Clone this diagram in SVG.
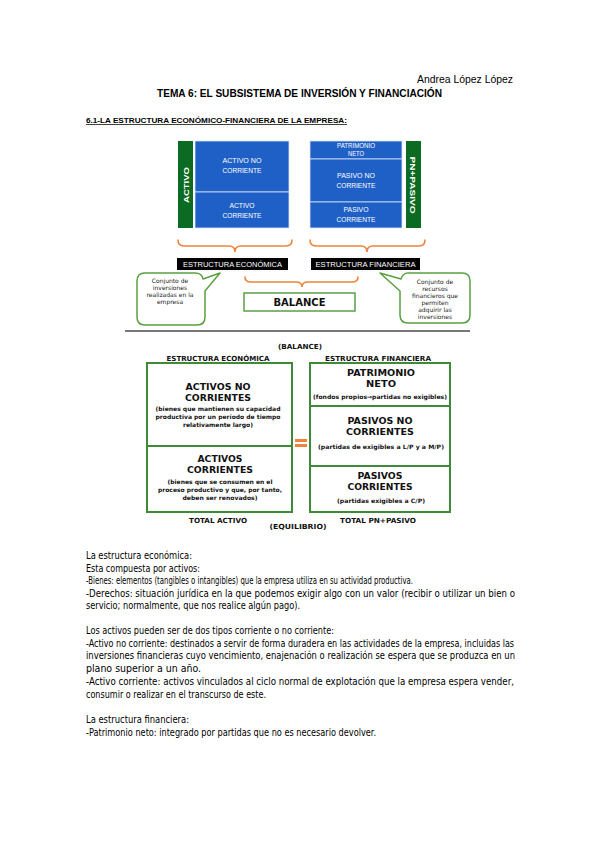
<svg xmlns="http://www.w3.org/2000/svg" width="599" height="848" viewBox="0 0 599 848">
<defs>
<style>
.doc{font-family:"Liberation Sans Narrow","DejaVu Sans Condensed","Liberation Sans",Arial,sans-serif;font-size:10px;fill:#000}
.hdr{font-family:"Liberation Sans",Arial,sans-serif;fill:#000}
.bl{font-family:"Liberation Sans",Arial,sans-serif;font-size:7px;fill:#fff;text-anchor:middle}
.vb{font-family:"DejaVu Sans",Verdana,sans-serif;font-weight:bold;fill:#111;text-anchor:middle}
.big{font-size:9.4px}
.sm{font-size:6px}
.hd{font-size:7px}
.co{font-family:"DejaVu Sans",Verdana,sans-serif;font-size:6px;fill:#222;text-anchor:middle}
.blue{fill:#1f60c6;stroke:#d9e4f5;stroke-width:0.8}
.gbar{fill:#0c6b22}
.brace{fill:none;stroke:#f0843a;stroke-width:1.6;stroke-linecap:round}
.gbox{fill:#fff;stroke:#3e8a36;stroke-width:2}
.call{fill:#fff;stroke:#58a040;stroke-width:1.5;stroke-linejoin:round}
</style>
</defs>
<rect width="599" height="848" fill="#fff"/>

<g id="header">
<text class="hdr" x="513" y="83" text-anchor="end" font-size="10.5" textLength="96" lengthAdjust="spacingAndGlyphs">Andrea López López</text>
<text class="hdr" x="157" y="97" font-size="11" font-weight="bold" textLength="285" lengthAdjust="spacingAndGlyphs">TEMA 6: EL SUBSISTEMA DE INVERSIÓN Y FINANCIACIÓN</text>
<text class="hdr" x="86" y="123" font-size="7.5" font-weight="bold" textLength="261" lengthAdjust="spacingAndGlyphs" text-decoration="underline">6.1-LA ESTRUCTURA ECONÓMICO-FINANCIERA DE LA EMPRESA:</text>
</g>

<g id="activo-bar">
<rect class="gbar" x="178" y="141" width="15" height="87"/>
<text class="bl" transform="translate(189,185) rotate(-90)" font-size="9.5" font-weight="bold" textLength="36" lengthAdjust="spacingAndGlyphs">ACTIVO</text>
</g>
<g id="activo-no-corriente">
<rect class="blue" x="195" y="141" width="94" height="51"/>
<text class="bl" x="242" y="163" textLength="39" lengthAdjust="spacingAndGlyphs">ACTIVO NO</text>
<text class="bl" x="242" y="173" textLength="39" lengthAdjust="spacingAndGlyphs">CORRIENTE</text>
</g>
<g id="activo-corriente">
<rect class="blue" x="195" y="192" width="94" height="36"/>
<text class="bl" x="242" y="208" textLength="25" lengthAdjust="spacingAndGlyphs">ACTIVO</text>
<text class="bl" x="242" y="218" textLength="39" lengthAdjust="spacingAndGlyphs">CORRIENTE</text>
</g>
<g id="patrimonio-neto">
<rect class="blue" x="310" y="141" width="92" height="18"/>
<text class="bl" x="356" y="148" font-size="5.8" textLength="38" lengthAdjust="spacingAndGlyphs">PATRIMONIO</text>
<text class="bl" x="356" y="156" font-size="5.8" textLength="16" lengthAdjust="spacingAndGlyphs">NETO</text>
</g>
<g id="pasivo-no-corriente">
<rect class="blue" x="310" y="159" width="92" height="43"/>
<text class="bl" x="356" y="178" textLength="38" lengthAdjust="spacingAndGlyphs">PASIVO NO</text>
<text class="bl" x="356" y="188" textLength="39" lengthAdjust="spacingAndGlyphs">CORRIENTE</text>
</g>
<g id="pasivo-corriente">
<rect class="blue" x="310" y="202" width="92" height="26"/>
<text class="bl" x="356" y="212" textLength="25" lengthAdjust="spacingAndGlyphs">PASIVO</text>
<text class="bl" x="356" y="222" textLength="39" lengthAdjust="spacingAndGlyphs">CORRIENTE</text>
</g>
<g id="pn-pasivo-bar">
<rect class="gbar" x="406" y="141" width="15" height="87"/>
<text class="bl" transform="translate(410,185) rotate(90)" font-size="9.5" font-weight="bold" textLength="57" lengthAdjust="spacingAndGlyphs">PN+PASIVO</text>
</g>

<g id="connectors">
<path class="brace" d="M178,240 Q178,246 184,246 L229,246 Q235,246 235,252 Q235,246 241,246 L286,246 Q292,246 292,240"/>
<path class="brace" d="M310,240 Q310,246 316,246 L361,246 Q367,246 367,252 Q367,246 373,246 L419,246 Q425,246 425,240"/>
<path class="brace" d="M245,277 Q245,282 251,282 L296,282 Q302,282 302,287 Q302,282 308,282 L352,282 Q358,282 358,277"/>
</g>

<g id="estructura-economica-label">
<rect x="177" y="258" width="111" height="12" fill="#000"/>
<text class="bl" x="232.5" y="267" textLength="99" lengthAdjust="spacingAndGlyphs">ESTRUCTURA ECONÓMICA</text>
</g>
<g id="estructura-financiera-label">
<rect x="311" y="258" width="109" height="12" fill="#000"/>
<text class="bl" x="365.5" y="267" textLength="100" lengthAdjust="spacingAndGlyphs">ESTRUCTURA FINANCIERA</text>
</g>

<g id="callout-left">
<path class="call" d="M145,273 H195 Q202,273 203,279 L220,273 L205,291 V317 Q205,325 197,325 H145 Q137,325 137,317 V281 Q137,273 145,273 Z"/>
<text class="co" x="170" y="283">Conjunto de</text>
<text class="co" x="170" y="290">inversiones</text>
<text class="co" x="170" y="297">realizadas en la</text>
<text class="co" x="170" y="304">empresa</text>
</g>
<g id="callout-right">
<path class="call" d="M408,273 H462 Q470,273 470,281 V315 Q470,323 462,323 H408 Q400,323 400,315 V291 L380,273 L401,279 Q403,273 408,273 Z"/>
<text class="co" x="435" y="284">Conjunto de</text>
<text class="co" x="435" y="291">recursos</text>
<text class="co" x="435" y="298">financieros que</text>
<text class="co" x="435" y="305">permiten</text>
<text class="co" x="435" y="312">adquirir las</text>
<text class="co" x="435" y="319">inversiones</text>
</g>
<g id="balance-box">
<rect x="244" y="293" width="111" height="18" fill="#fff" stroke="#5aa046" stroke-width="1.5"/>
<text class="vb" x="299.5" y="306" font-size="10" textLength="52" lengthAdjust="spacingAndGlyphs">BALANCE</text>
</g>
<line x1="125" y1="331" x2="470" y2="331" stroke="#777" stroke-width="2"/>

<g id="balance-table-labels">
<text class="vb hd" x="300" y="349" textLength="44" lengthAdjust="spacingAndGlyphs">(BALANCE)</text>
<text class="vb hd" x="218" y="361" textLength="103" lengthAdjust="spacingAndGlyphs">ESTRUCTURA ECONÓMICA</text>
<text class="vb hd" x="378" y="361" textLength="106" lengthAdjust="spacingAndGlyphs">ESTRUCTURA FINANCIERA</text>
<text class="vb hd" x="218" y="523" textLength="58" lengthAdjust="spacingAndGlyphs">TOTAL ACTIVO</text>
<text class="vb hd" x="298" y="529" textLength="57" lengthAdjust="spacingAndGlyphs">(EQUILIBRIO)</text>
<text class="vb hd" x="378" y="523" textLength="76" lengthAdjust="spacingAndGlyphs">TOTAL PN+PASIVO</text>
</g>
<g id="activos-no-corrientes">
<rect class="gbox" x="147" y="363" width="145" height="83"/>
<text class="vb big" x="218" y="390" textLength="65" lengthAdjust="spacingAndGlyphs">ACTIVOS NO</text>
<text class="vb big" x="218" y="401" textLength="66" lengthAdjust="spacingAndGlyphs">CORRIENTES</text>
<text class="vb sm" x="218" y="411" textLength="125" lengthAdjust="spacingAndGlyphs">(bienes que mantienen su capacidad</text>
<text class="vb sm" x="218" y="419" textLength="125" lengthAdjust="spacingAndGlyphs">productiva por un período de tiempo</text>
<text class="vb sm" x="218" y="427" textLength="70" lengthAdjust="spacingAndGlyphs">relativamente largo)</text>
</g>
<g id="activos-corrientes">
<rect class="gbox" x="147" y="446" width="145" height="66"/>
<text class="vb big" x="220" y="462" textLength="45" lengthAdjust="spacingAndGlyphs">ACTIVOS</text>
<text class="vb big" x="220" y="473" textLength="66" lengthAdjust="spacingAndGlyphs">CORRIENTES</text>
<text class="vb sm" x="220" y="484" textLength="105" lengthAdjust="spacingAndGlyphs">(bienes que se consumen en el</text>
<text class="vb sm" x="220" y="492" textLength="124" lengthAdjust="spacingAndGlyphs">proceso productivo y que, por tanto,</text>
<text class="vb sm" x="220" y="500" textLength="75" lengthAdjust="spacingAndGlyphs">deben ser renovados)</text>
</g>
<g id="equals">
<rect x="295" y="439" width="12" height="3" fill="#f0843a"/>
<rect x="295" y="444" width="12" height="3" fill="#f0843a"/>
</g>
<g id="patrimonio-neto-box">
<rect class="gbox" x="310" y="363" width="140" height="43"/>
<text class="vb big" x="381" y="376" textLength="68" lengthAdjust="spacingAndGlyphs">PATRIMONIO</text>
<text class="vb big" x="381" y="387" textLength="30" lengthAdjust="spacingAndGlyphs">NETO</text>
<text class="vb sm" x="380" y="399" textLength="134" lengthAdjust="spacingAndGlyphs">(fondos propios→partidas no exigibles)</text>
</g>
<g id="pasivos-no-corrientes">
<rect class="gbox" x="310" y="406" width="140" height="60"/>
<text class="vb big" x="380" y="424" textLength="65" lengthAdjust="spacingAndGlyphs">PASIVOS NO</text>
<text class="vb big" x="380" y="435" textLength="68" lengthAdjust="spacingAndGlyphs">CORRIENTES</text>
<text class="vb sm" x="381" y="449" textLength="126" lengthAdjust="spacingAndGlyphs">(partidas de exigibles a L/P y a M/P)</text>
</g>
<g id="pasivos-corrientes">
<rect class="gbox" x="310" y="466" width="140" height="46"/>
<text class="vb big" x="380" y="479" textLength="45" lengthAdjust="spacingAndGlyphs">PASIVOS</text>
<text class="vb big" x="380" y="490" textLength="65" lengthAdjust="spacingAndGlyphs">CORRIENTES</text>
<text class="vb sm" x="381" y="503" textLength="88" lengthAdjust="spacingAndGlyphs">(partidas exigibles a C/P)</text>
</g>

<g id="body-text">
<text class="doc" x="86" y="559" textLength="106" lengthAdjust="spacingAndGlyphs">La estructura económica:</text>
<text class="doc" x="86" y="572" textLength="114" lengthAdjust="spacingAndGlyphs">Esta compuesta por activos:</text>
<text class="doc" x="86" y="584" textLength="327" lengthAdjust="spacingAndGlyphs">-Bienes: elementos (tangibles o intangibles) que la empresa utiliza en su actividad productiva.</text>
<text class="doc" x="86" y="597" textLength="429" lengthAdjust="spacingAndGlyphs">-Derechos: situación jurídica en la que podemos exigir algo con un valor (recibir o utilizar un bien o</text>
<text class="doc" x="86" y="609" textLength="214" lengthAdjust="spacingAndGlyphs">servicio; normalmente, que nos realice algún pago).</text>
<text class="doc" x="86" y="634" textLength="248" lengthAdjust="spacingAndGlyphs">Los activos pueden ser de dos tipos corriente o no corriente:</text>
<text class="doc" x="86" y="647" textLength="428" lengthAdjust="spacingAndGlyphs">-Activo no corriente: destinados a servir de forma duradera en las actividades de la empresa, incluidas las</text>
<text class="doc" x="86" y="659" textLength="429" lengthAdjust="spacingAndGlyphs">inversiones financieras cuyo vencimiento, enajenación o realización se espera que se produzca en un</text>
<text class="doc" x="86" y="672" textLength="115" lengthAdjust="spacingAndGlyphs">plano superior a un año.</text>
<text class="doc" x="86" y="685" textLength="428" lengthAdjust="spacingAndGlyphs">-Activo corriente: activos vinculados al ciclo normal de explotación que la empresa espera vender,</text>
<text class="doc" x="86" y="698" textLength="180" lengthAdjust="spacingAndGlyphs">consumir o realizar en el transcurso de este.</text>
<text class="doc" x="86" y="723" textLength="103" lengthAdjust="spacingAndGlyphs">La estructura financiera:</text>
<text class="doc" x="86" y="736" textLength="290" lengthAdjust="spacingAndGlyphs">-Patrimonio neto: integrado por partidas que no es necesario devolver.</text>
</g>
</svg>
